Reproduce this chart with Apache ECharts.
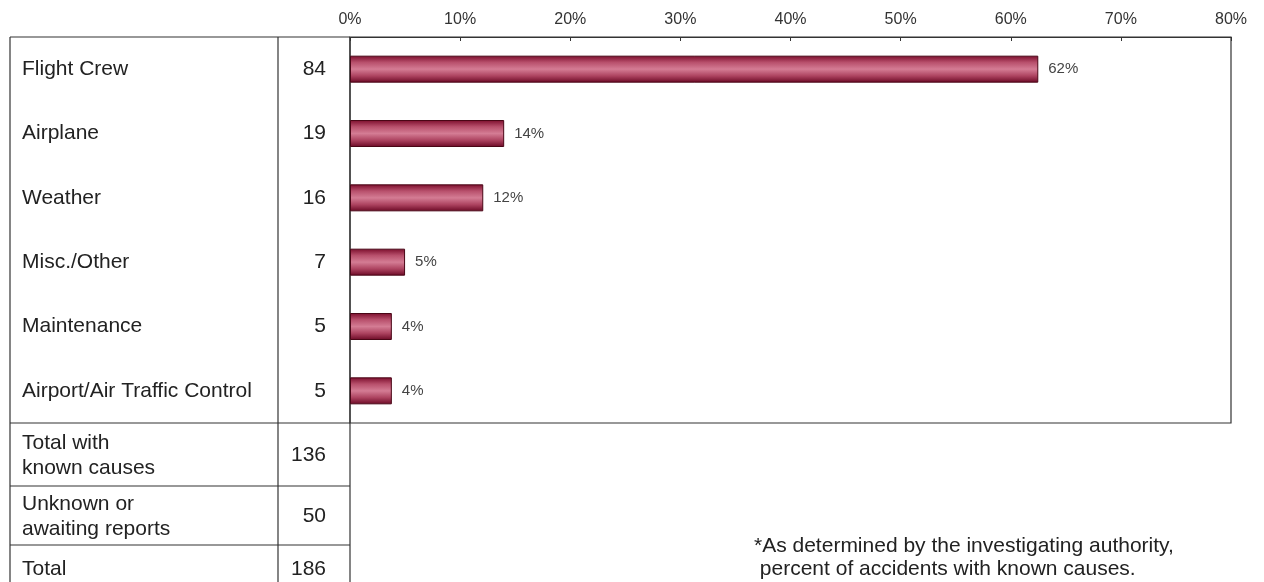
<!DOCTYPE html>
<html>
<head>
<meta charset="utf-8">
<script src="https://cdn.jsdelivr.net/npm/echarts@6/dist/echarts.min.js"></script>
<style>
html,body{margin:0;padding:0;background:#fff;}
#chart{width:1264px;height:582px;}
</style>
</head>
<body>
<div id="chart"></div>
<script>
const categories = ['Flight Crew','Airplane','Weather','Misc./Other','Maintenance','Airport/Air Traffic Control'];
const counts = [84, 19, 16, 7, 5, 5];
const percentValues = [62.5, 14.0, 12.1, 5.0, 3.8, 3.8];
const percentLabels = ['62%','14%','12%','5%','4%','4%'];
const tickValues = [0,10,20,30,40,50,60,70,80];
const summaryLabels = [['Total with','known causes'],['Unknown or','awaiting reports'],['Total']];
const summaryCounts = [136, 50, 186];
const footnote = ['*As determined by the investigating authority,',' percent of accidents with known causes.'];

const FONT = '"Liberation Sans", Arial, sans-serif';
const chart = echarts.init(document.getElementById('chart'));

// table geometry
const tL = 10, tC = 278, tP = 350, tR = 1231, tTop = 37, tMain = 423;
const rowBounds = [423, 486, 545, 600];
const lineStyle = {stroke:'#333', lineWidth:1.2};
const graphics = [];
function hline(x1,x2,y){graphics.push({type:'line',shape:{x1:x1,y1:y,x2:x2,y2:y},style:lineStyle,silent:true});}
function vline(x,y1,y2){graphics.push({type:'line',shape:{x1:x,y1:y1,x2:x,y2:y2},style:lineStyle,silent:true});}
hline(tL,tP,tTop); hline(tL,tP,tMain);
vline(tL,tTop,582); vline(tC,tTop,582); vline(tP,tTop,582);
for(let i=1;i<rowBounds.length-1;i++) hline(tL,tP,rowBounds[i]);
summaryLabels.forEach((lines,i)=>{
  const y0 = rowBounds[i], y1 = rowBounds[i+1];
  const mid = lines.length===1 ? (y0+24) : (y0+y1)/2 + 1;
  graphics.push({type:'text',x:22,y:mid,style:{text:lines.join('\n'),font:'21px '+FONT,fill:'#222',textVerticalAlign:'middle',lineHeight:25}});
  graphics.push({type:'text',x:326,y:mid,style:{text:String(summaryCounts[i]),font:'21px '+FONT,fill:'#222',textAlign:'right',textVerticalAlign:'middle'}});
});
graphics.push({type:'text',x:754,y:558,style:{text:footnote.join('\n'),font:'21px '+FONT,fill:'#222',textVerticalAlign:'middle',lineHeight:23}});

chart.setOption({
  animation:false,
  backgroundColor:'#fff',
  textStyle:{fontFamily:FONT},
  grid:{left:350,right:33,top:37,height:386,show:true,borderColor:'#333',borderWidth:1.2,backgroundColor:'transparent'},
  xAxis:{
    type:'value',position:'top',min:tickValues[0],max:tickValues[tickValues.length-1],interval:10,
    axisLine:{show:true,lineStyle:{color:'#333',width:1.2}},
    axisTick:{show:true,inside:true,length:4,lineStyle:{color:'#333'}},
    axisLabel:{formatter:'{value}%',fontSize:16,color:'#333',margin:9,fontFamily:FONT},
    splitLine:{show:false}
  },
  yAxis:[
    {type:'category',data:categories,inverse:true,position:'left',
      axisLine:{show:false},axisTick:{show:false},
      axisLabel:{align:'left',margin:328,fontSize:21,color:'#222',fontFamily:FONT,padding:[9,0,0,0]}},
    {type:'category',data:counts.map(String),inverse:true,position:'left',offset:0,
      axisLine:{show:false},axisTick:{show:false},
      axisLabel:{align:'right',margin:24,fontSize:21,color:'#222',fontFamily:FONT,padding:[7,0,0,0]}}
  ],
  series:[{
    type:'bar',
    yAxisIndex:0,
    data:percentValues,
    barWidth:27,
    itemStyle:{
      color:new echarts.graphic.LinearGradient(0,0,0,1,[
        {offset:0,color:'#7a0c2b'},
        {offset:0.25,color:'#b8506c'},
        {offset:0.5,color:'#d47c94'},
        {offset:0.75,color:'#ad4360'},
        {offset:1,color:'#6a0824'}
      ]),
      borderColor:'#4a0616',borderWidth:1
    },
    label:{show:true,position:'right',distance:10,fontSize:15,color:'#444',fontFamily:FONT,
      formatter:p=>percentLabels[p.dataIndex]}
  }],
  graphic:graphics
});
</script>
</body>
</html>
